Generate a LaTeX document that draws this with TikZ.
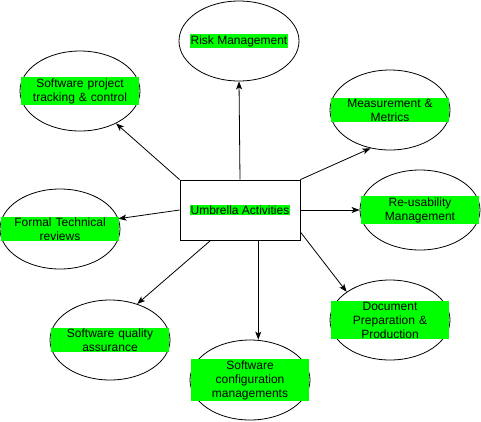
\documentclass[tikz,border=0pt]{standalone}
\usepackage{fontspec}
\setmainfont{Liberation Sans}
\usetikzlibrary{shapes.geometric,arrows.meta}

\tikzset{
  oval/.style={draw, ellipse, line width=0.8pt, minimum width=120pt, minimum height=80pt, inner sep=0pt},
  tag/.style={fill={rgb,255:red,0;green,255;blue,0}, inner sep=1pt, font=\fontsize{12}{14}\selectfont},
  tagbox/.style={tag, text width=116pt, align=center},
}

\begin{document}
\begin{tikzpicture}[x=1pt, y=-1pt, >={Stealth[length=8pt,width=6pt,inset=2pt]}, line width=0.8pt]
\useasboundingbox (0,0) rectangle (481,421);

% centre box
\node[draw, minimum width=120pt, minimum height=60pt, inner sep=0pt] (ua) at (240,210) {};
\node[tag] (uaT) at (ua) {Umbrella Activities};

% ellipse nodes
\node[oval] (risk) at (239,41) {};
\node[oval] (track) at (80,91) {};
\node[oval] (meas) at (390,110) {};
\node[oval] (ftr) at (60,229) {};
\node[oval] (reuse) at (420,210) {};
\node[oval] (sqa) at (110,340) {};
\node[oval] (scm) at (250,380) {};
\node[oval] (doc) at (390,320) {};

% green labels
\node[tag] (riskT) at (risk) {Risk Management};
\node[tagbox] (trackT) at (track) {Software project\\tracking \& control};
\node[tagbox] (measT) at (meas) {Measurement \&\\Metrics};
\node[tagbox] (ftrT) at (ftr) {Formal Technical\\reviews};
\node[tagbox] (reuseT) at (reuse) {Re-usability\\Management};
\node[tagbox] (sqaT) at (sqa) {Software quality\\assurance};
\node[tagbox] (scmT) at (scm) {Software\\configuration\\managements};
\node[tagbox] (docT) at (doc) {Document\\Preparation \&\\Production};

% arrows out of the box
\draw[->] (ua.north) -- (risk.south);
\draw[->] (ua.north west) -- (track.-42);
\draw[->] (ua.north east) -- (meas.-117);
\draw[->] (ua.west) -- (ftr.10);
\draw[->] (ua.east) -- (reuse.west);
\draw[->] (ua.-134) -- (sqa.53);
\draw[->] (ua.-59) -- (ua.-59 |- scm.north);
\draw[->] (ua.-20) -- (doc.147);
\end{tikzpicture}
\end{document}
